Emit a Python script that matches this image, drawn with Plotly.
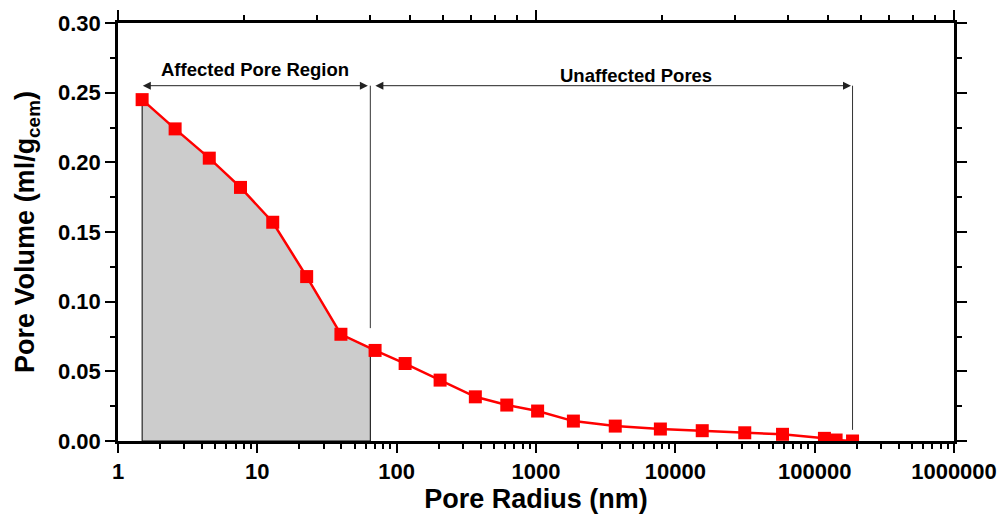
import math
import plotly.graph_objects as go

# Pore radius (nm) and cumulative pore volume (ml/g cement)
radius_nm = [1.49, 2.57, 4.52, 7.57, 12.9, 22.6, 39.8, 70.0, 115, 205, 367, 617,
             1027, 1855, 3705, 7810, 15600, 31500, 58800, 117500, 142500, 187000]
pore_volume = [0.245, 0.224, 0.203, 0.182, 0.157, 0.118, 0.0766, 0.0650, 0.0556,
               0.0437, 0.0317, 0.0258, 0.0215, 0.0143, 0.0107, 0.0086, 0.0074,
               0.0059, 0.0048, 0.0019, 0.0007, 0.0]

# Region limits
affected_limit_nm = 64.7
affected_limit_volume = 0.0665
unaffected_limit_nm = 187000
arrow_level = 0.255

x_tickvals = [1, 10, 100, 1000, 10000, 100000, 1000000]
x_ticktext = ["1", "10", "100", "1000", "10000", "100000", "1000000"]

FONT = "Liberation Sans, Arial, sans-serif"
lg = math.log10

fig = go.Figure()

# shaded "affected" region under the curve
n_aff = sum(1 for r in radius_nm if r < affected_limit_nm)
fill_x = [radius_nm[0]] + radius_nm[:n_aff] + [affected_limit_nm, affected_limit_nm, radius_nm[0]]
fill_y = [0.0] + pore_volume[:n_aff] + [affected_limit_volume, 0.0, 0.0]
fig.add_trace(go.Scatter(x=fill_x, y=fill_y, mode="lines", fill="toself",
                         fillcolor="#CCCCCC", line=dict(color="black", width=1),
                         hoverinfo="skip", showlegend=False))

# boundary lines
fig.add_trace(go.Scatter(x=[affected_limit_nm, affected_limit_nm], y=[arrow_level, 0.081],
                         mode="lines", line=dict(color="#333333", width=1),
                         hoverinfo="skip", showlegend=False))
fig.add_trace(go.Scatter(x=[unaffected_limit_nm, unaffected_limit_nm], y=[arrow_level, 0.008],
                         mode="lines", line=dict(color="#333333", width=1),
                         hoverinfo="skip", showlegend=False))

# data
fig.add_trace(go.Scatter(x=radius_nm, y=pore_volume, mode="lines+markers",
                         line=dict(color="#FF0000", width=2.5),
                         marker=dict(symbol="square", size=13, color="#FF0000"),
                         showlegend=False))

# empty trace on the top axis so it is drawn
fig.add_trace(go.Scatter(x=[1, 100], y=[None, None], xaxis="x2", yaxis="y",
                         mode="lines", hoverinfo="skip", showlegend=False))

# double-headed arrows
arrows = [(1.47, affected_limit_nm * 0.96), (affected_limit_nm * 1.06, unaffected_limit_nm * 0.975)]
for a, b in arrows:
    fig.add_annotation(x=lg(b), y=arrow_level, ax=lg(a), ay=arrow_level,
                       xref="x", yref="y", axref="x", ayref="y", text="",
                       showarrow=True, arrowhead=2, startarrowhead=2,
                       arrowside="end+start", arrowsize=1.6, startarrowsize=1.6,
                       arrowwidth=1, arrowcolor="#222222")

fig.add_annotation(x=lg(9.7), y=0.2665, xref="x", yref="y", text="<b>Affected Pore Region</b>",
                   showarrow=False, font=dict(family=FONT, size=18.5, color="black"))
fig.add_annotation(x=lg(5220), y=0.2625, xref="x", yref="y", text="<b>Unaffected Pores</b>",
                   showarrow=False, font=dict(family=FONT, size=18.5, color="black"))

minor_vals = [m * 10 ** d for d in range(6) for m in range(2, 10)]
top_minor = [m * 10 ** d for d in range(2) for m in range(2, 10)]

fig.update_layout(
    width=1003, height=514,
    margin=dict(l=118, r=49, t=23, b=73),
    paper_bgcolor="white", plot_bgcolor="white",
    font=dict(family=FONT, color="black"),
    xaxis=dict(type="log", range=[0, 6], tickvals=x_tickvals, ticktext=x_ticktext,
               automargin=False,
               ticks="outside", ticklen=9, tickwidth=2, tickcolor="black",
               showline=True, linewidth=2.5, linecolor="black", showgrid=False,
               zeroline=False,
               minor=dict(tickvals=minor_vals, ticks="outside", ticklen=5,
                          tickwidth=2, tickcolor="black", showgrid=False),
               tickfont=dict(family=FONT, size=22, color="black", weight="bold"),
               title=dict(text="<b>Pore Radius (nm)</b>", standoff=8,
                          font=dict(family=FONT, size=27, color="black"))),
    xaxis2=dict(type="log", range=[0, 2], overlaying="x", side="top", anchor="y",
                tickvals=[1, 10, 100], showticklabels=False, automargin=False,
                ticks="outside", ticklen=10, tickwidth=2, tickcolor="black",
                showline=True, linewidth=2.5, linecolor="black", showgrid=False,
                zeroline=False,
                minor=dict(tickvals=top_minor, ticks="outside", ticklen=5,
                           tickwidth=2, tickcolor="black", showgrid=False)),
    yaxis=dict(range=[0, 0.30], tickvals=[0, 0.05, 0.10, 0.15, 0.20, 0.25, 0.30],
               automargin=False,
               tickformat=".2f", ticks="outside", ticklen=10, tickwidth=2,
               tickcolor="black", showline=True, linewidth=2.5, linecolor="black",
               mirror="ticks", showgrid=False, zeroline=False,
               minor=dict(dtick=0.025, ticks="outside", ticklen=5, tickwidth=2,
                          tickcolor="black", showgrid=False),
               tickfont=dict(family=FONT, size=22, color="black", weight="bold"),
               title=dict(text="<b>Pore Volume (ml/g<sub>cem</sub>)</b>", standoff=16,
                          font=dict(family=FONT, size=27, color="black"))),
)

fig.write_html("out.html")
